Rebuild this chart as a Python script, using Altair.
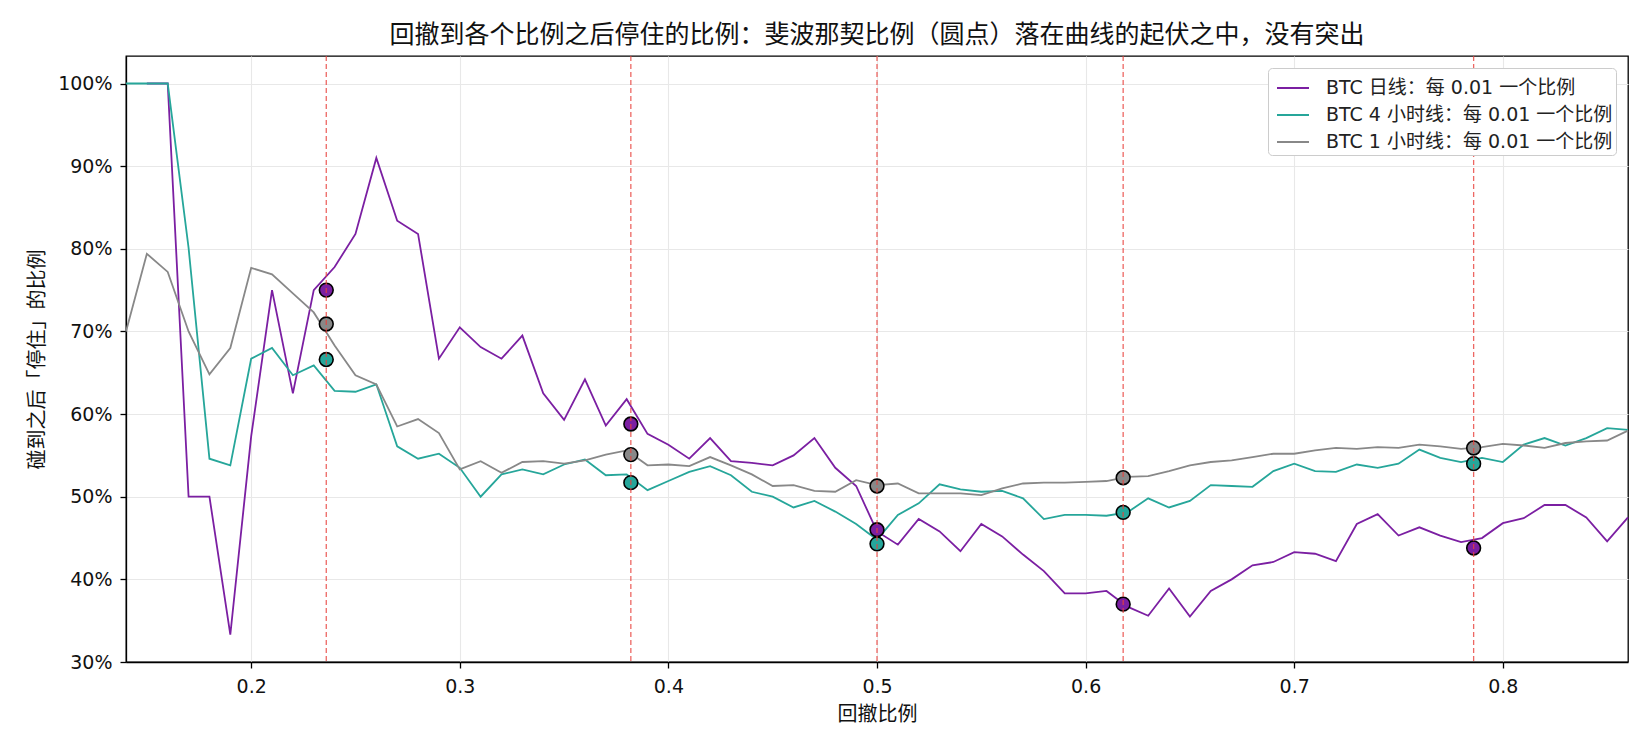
import altair as alt
import pandas as pd

ratios = [round(0.14 + 0.01 * i, 2) for i in range(73)]

daily = [None, 1.00, 1.00, 0.50, 0.50, 0.333, 0.573, 0.750, 0.625, 0.750,
         0.778, 0.818, 0.910, 0.834, 0.818, 0.667, 0.705, 0.681, 0.667, 0.695,
         0.625, 0.593, 0.642, 0.586, 0.618, 0.576, 0.563, 0.546, 0.571, 0.543,
         0.541, 0.538, 0.550, 0.571, 0.535, 0.513, 0.458, 0.442, 0.473, 0.458,
         0.434, 0.467, 0.452, 0.430, 0.410, 0.383, 0.383, 0.386, 0.367, 0.356,
         0.389, 0.355, 0.386, 0.400, 0.417, 0.421, 0.433, 0.431, 0.422, 0.467,
         0.479, 0.453, 0.463, 0.453, 0.445, 0.450, 0.468, 0.474, 0.490, 0.490,
         0.475, 0.446, 0.475]

h4 = [1.00, 1.00, 1.00, 0.801, 0.546, 0.538, 0.667, 0.680, 0.647, 0.659,
      0.628, 0.627, 0.636, 0.561, 0.546, 0.552, 0.535, 0.500, 0.527, 0.533,
      0.527, 0.539, 0.545, 0.526, 0.527, 0.508, 0.519, 0.530, 0.537, 0.526,
      0.506, 0.500, 0.487, 0.495, 0.482, 0.467, 0.448, 0.478, 0.492, 0.515,
      0.509, 0.506, 0.507, 0.498, 0.473, 0.478, 0.478, 0.477, 0.481, 0.498,
      0.487, 0.495, 0.514, 0.513, 0.512, 0.531, 0.540, 0.531, 0.530, 0.539,
      0.535, 0.540, 0.557, 0.547, 0.542, 0.547, 0.542, 0.563, 0.571, 0.562,
      0.571, 0.583, 0.581]

h1 = [0.700, 0.794, 0.772, 0.700, 0.648, 0.680, 0.777, 0.769, 0.746, 0.723,
      0.683, 0.647, 0.636, 0.585, 0.594, 0.577, 0.533, 0.543, 0.529, 0.542,
      0.543, 0.540, 0.544, 0.551, 0.556, 0.538, 0.539, 0.537, 0.548, 0.538,
      0.527, 0.513, 0.514, 0.507, 0.506, 0.520, 0.514, 0.516, 0.504, 0.504,
      0.504, 0.502, 0.510, 0.516, 0.517, 0.517, 0.518, 0.519, 0.524, 0.525,
      0.531, 0.538, 0.542, 0.544, 0.548, 0.552, 0.552, 0.556, 0.559, 0.558,
      0.560, 0.559, 0.563, 0.561, 0.558, 0.560, 0.564, 0.562, 0.559, 0.565,
      0.567, 0.568, 0.580]

fib = [0.236, 0.382, 0.5, 0.618, 0.786]
fib_daily = [0.750, 0.588, 0.460, 0.370, 0.438]
fib_h4 = [0.666, 0.517, 0.443, 0.481, 0.540]
fib_h1 = [0.709, 0.551, 0.513, 0.523, 0.559]

names = ["BTC 日线：每 0.01 一个比例",
         "BTC 4 小时线：每 0.01 一个比例",
         "BTC 1 小时线：每 0.01 一个比例"]
colors = ["#7B1FA2", "#26A69A", "#888888"]

rows = []
for name, vals in zip(names, [daily, h4, h1]):
    for r, v in zip(ratios, vals):
        if v is not None:
            rows.append({"ratio": r, "value": v, "series": name})
lines_df = pd.DataFrame(rows)

pts = []
for name, vals in zip(names, [fib_daily, fib_h4, fib_h1]):
    for r, v in zip(fib, vals):
        pts.append({"ratio": r, "value": v, "series": name})
pts_df = pd.DataFrame(pts)
fib_df = pd.DataFrame({"ratio": fib})

CJK = "Noto Sans CJK SC"
MIX = "DejaVu Sans, Noto Sans CJK SC"

xscale = alt.Scale(domain=[0.14, 0.86], nice=False, zero=False)
yscale = alt.Scale(domain=[0.30, 1.0333], nice=False, zero=False)
cscale = alt.Scale(domain=names, range=colors)

xaxis = alt.Axis(values=[0.2, 0.3, 0.4, 0.5, 0.6, 0.7, 0.8], format=".1f",
                 title="回撤比例", labelPadding=9, titlePadding=8)
yaxis = alt.Axis(values=[0.3, 0.4, 0.5, 0.6, 0.7, 0.8, 0.9, 1.0], format=".0%",
                 title="碰到之后「停住」的比例", labelPadding=8, titlePadding=10)

lines = alt.Chart(lines_df).mark_line(strokeWidth=1.8).encode(
    x=alt.X("ratio:Q", scale=xscale, axis=xaxis),
    y=alt.Y("value:Q", scale=yscale, axis=yaxis),
    color=alt.Color("series:N", scale=cscale, sort=names,
                    legend=alt.Legend(title=None, orient="top-right", offset=12,
                                      symbolType="stroke", symbolSize=1024,
                                      symbolStrokeWidth=2, symbolOffset=5,
                                      labelFontSize=19,
                                      labelFont=MIX, labelColor="#222",
                                      labelOffset=16,
                                      strokeColor="#cccccc", fillColor="white",
                                      cornerRadius=4, padding=3, rowPadding=-2,
                                      labelLimit=500)),
    detail="series:N",
)

dots = alt.Chart(pts_df).mark_point(filled=True, size=190, stroke="black",
                                    strokeWidth=1.6, opacity=1).encode(
    x=alt.X("ratio:Q", scale=xscale),
    y=alt.Y("value:Q", scale=yscale),
    fill=alt.Fill("series:N", scale=cscale, legend=None),
)

rules = alt.Chart(fib_df).mark_rule(color="#e8413c", opacity=0.8,
                                    strokeWidth=1.3, strokeDash=[5, 3]).encode(
    x=alt.X("ratio:Q", scale=xscale)
)

chart = alt.layer(lines, dots, rules).properties(
    width=1502, height=606,
    title=alt.TitleParams(
        "回撤到各个比例之后停住的比例：斐波那契比例（圆点）落在曲线的起伏之中，没有突出",
        fontSize=25, font=CJK, fontWeight="normal", color="#111",
        anchor="middle", frame="group", offset=7),
    autosize=alt.AutoSizeParams(type="none"),
    padding={"left": 118, "top": 48, "right": 14, "bottom": 70},
).configure(font=CJK).configure_view(
    stroke="black", strokeWidth=1.3
).configure_axis(
    labelFont="DejaVu Sans", titleFont=CJK, labelFontSize=19, titleFontSize=20,
    titleFontWeight="normal", labelColor="#111", titleColor="#111",
    tickColor="black", tickSize=6, tickWidth=1.3, domainColor="black",
    domainWidth=1.3, gridColor="#e8e8e8", gridWidth=1.1,
)

chart.save("out.html", embed_options={"renderer": "svg", "actions": False})
